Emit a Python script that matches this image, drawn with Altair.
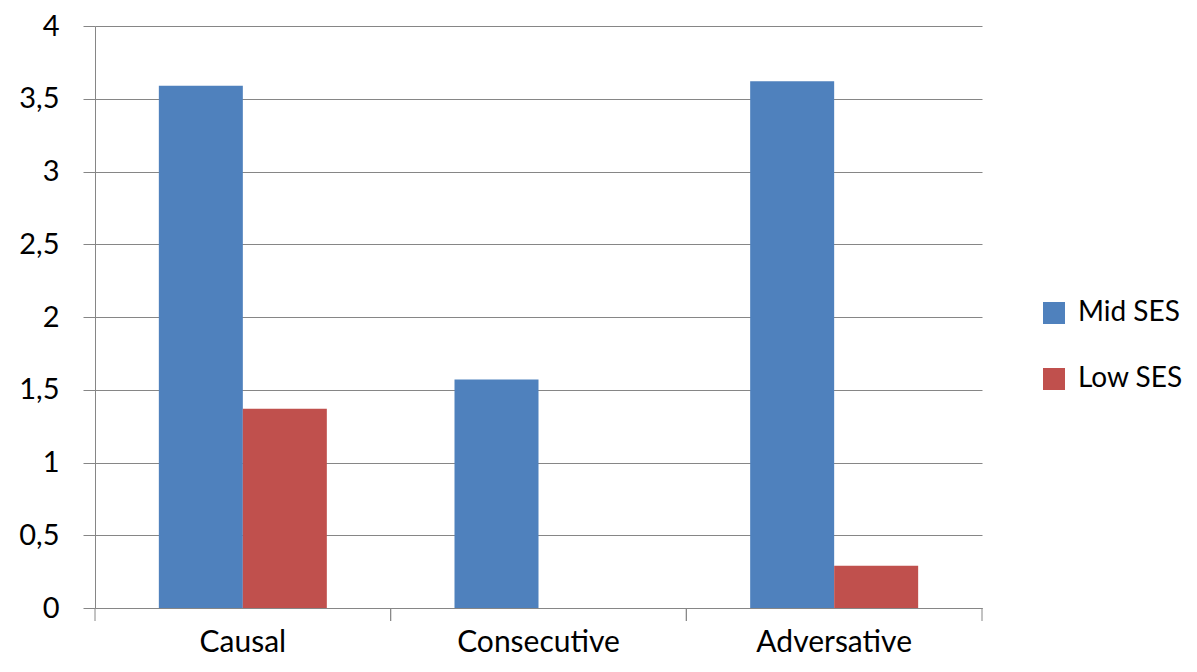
import altair as alt
import pandas as pd

categories = ["Causal", "Consecutive", "Adversative"]
series = ["Mid SES", "Low SES"]
mid_ses = [3.59, 1.57, 3.62]
low_ses = [1.37, 0.0, 0.29]
y_ticks = [0, 0.5, 1, 1.5, 2, 2.5, 3, 3.5, 4]
colors = ["#4F81BD", "#C0504D"]

rows = []
for c, m, l in zip(categories, mid_ses, low_ses):
    rows.append({"Category": c, "Series": series[0], "Value": m})
    rows.append({"Category": c, "Series": series[1], "Value": l})
df = pd.DataFrame(rows)
catdf = pd.DataFrame({"Category": categories})

GRAY = "#868686"
FONT = "Lato"

x_axis = alt.Axis(title=None, labelAngle=0, ticks=False, domain=True, domainColor=GRAY,
                  labelFontSize=30, labelFont=FONT, labelColor="black", labelPadding=19,
                  grid=False)
x_scale = alt.Scale(paddingInner=0, paddingOuter=0)

bars = alt.Chart(df).mark_bar().encode(
    x=alt.X("Category:N", sort=categories, scale=x_scale, axis=x_axis),
    xOffset=alt.XOffset("Series:N", sort=series,
                        scale=alt.Scale(paddingOuter=0.76, paddingInner=0)),
    y=alt.Y("Value:Q", scale=alt.Scale(domain=[0, 4], nice=False),
            axis=alt.Axis(title=None, values=y_ticks, format="~g",
                          labelExpr="replace(datum.label, '.', ',')",
                          tickSize=12, tickColor=GRAY, grid=True, gridColor=GRAY,
                          domainColor=GRAY, labelFontSize=29, labelFont=FONT,
                          labelColor="black", labelPadding=24)),
    color=alt.Color("Series:N", sort=series,
                    scale=alt.Scale(domain=series, range=colors),
                    legend=alt.Legend(title=None, orient="none", legendX=945, legendY=273,
                                      symbolType="square", symbolSize=484,
                                      labelFontSize=28, labelFont=FONT, labelColor="black",
                                      labelOffset=10, rowPadding=38)),
)

def tick_layer(bp):
    return alt.Chart(catdf).mark_rule(color=GRAY, strokeWidth=1).encode(
        x=alt.X("Category:N", sort=categories, scale=x_scale, axis=x_axis, bandPosition=bp),
        y=alt.value(582),
        y2=alt.value(595),
    )

chart = alt.layer(bars, tick_layer(0), tick_layer(1)).properties(
    width=887, height=582,
    padding={"left": 87, "top": 18, "right": 207, "bottom": 56},
    autosize=alt.AutoSizeParams(type="none"),
    background="white",
).configure_view(stroke=None)

chart.save("out.html", embed_options={"renderer": "svg", "actions": False})
